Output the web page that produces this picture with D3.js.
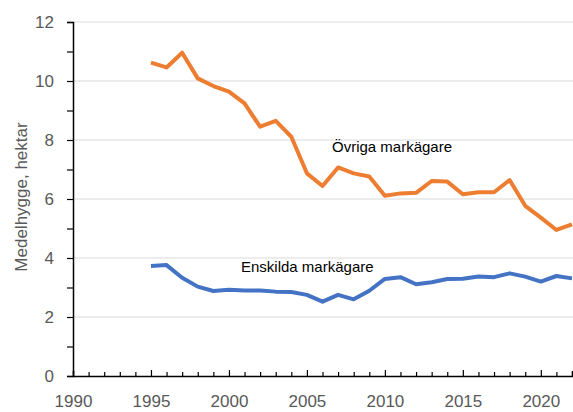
<!DOCTYPE html>
<html>
<head>
<meta charset="utf-8">
<script src="https://cdn.jsdelivr.net/npm/d3@7"></script>
<style>
  body { margin: 0; background: #fff; }
  svg { display: block; font-family: "Liberation Sans", Arial, sans-serif; }
</style>
</head>
<body>
<svg id="chart" width="573" height="412"></svg>
<script>
const WIDTH = 573;
const HEIGHT = 412;

// data
const years = d3.range(1995, 2023);
const ovriga = [10.62, 10.46, 10.96, 10.09, 9.83, 9.64, 9.24, 8.45, 8.65, 8.11,
  6.87, 6.44, 7.07, 6.87, 6.76, 6.11, 6.19, 6.21, 6.61, 6.59,
  6.16, 6.23, 6.23, 6.64, 5.77, 5.37, 4.95, 5.14];
const enskilda = [3.73, 3.76, 3.33, 3.03, 2.88, 2.92, 2.90, 2.90, 2.86, 2.85,
  2.75, 2.52, 2.75, 2.60, 2.89, 3.29, 3.35, 3.11, 3.18, 3.29,
  3.30, 3.37, 3.35, 3.48, 3.37, 3.20, 3.39, 3.31];
const xTickLabels = [1990, 1995, 2000, 2005, 2010, 2015, 2020];
const yTickLabels = [0, 2, 4, 6, 8, 10, 12];

const series = [
  { name: "Övriga markägare", values: ovriga, color: "#ED7D31", label: [332, 152] },
  { name: "Enskilda markägare", values: enskilda, color: "#4472C4", label: [241, 272] },
];

const svg = d3.select("#chart");

const x = d3.scaleLinear().domain([1990, 2022]).range([73, 572]);
const y = d3.scaleLinear().domain([0, 12]).range([376, 22]);

// gridlines
svg.append("g")
  .selectAll("line")
  .data(yTickLabels.slice(1))
  .join("line")
  .attr("x1", x(1990))
  .attr("x2", WIDTH)
  .attr("y1", (d) => y(d))
  .attr("y2", (d) => y(d))
  .attr("stroke", "#d9d9d9")
  .attr("stroke-width", 1);

// y axis
const yAxis = svg.append("g")
  .attr("transform", `translate(${x(1990)},0)`)
  .call(d3.axisLeft(y).tickValues(d3.range(0, 13)).tickSize(6)
    .tickFormat((d) => (d % 2 === 0 ? d : "")));
yAxis.select(".domain").attr("stroke", "#000").attr("stroke-width", 1.5);
yAxis.selectAll(".tick line").attr("stroke", "#000").attr("stroke-width", 1.2);
yAxis.selectAll(".tick text")
  .attr("x", -19)
  .attr("font-size", 17)
  .attr("font-family", "Liberation Sans, Arial, sans-serif")
  .attr("fill", "#595959");

// x axis, ticks pointing up
const xAxis = svg.append("g")
  .attr("transform", `translate(0,${y(0)})`)
  .call(d3.axisBottom(x).tickValues(d3.range(1990, 2023)).tickSizeOuter(0)
    .tickSize(-5)
    .tickFormat((d) => (xTickLabels.includes(d) ? d : "")));
xAxis.select(".domain").attr("stroke", "#000").attr("stroke-width", 1.5);
xAxis.selectAll(".tick line")
  .attr("stroke", "#000")
  .attr("stroke-width", 1.2)
  .attr("y2", (d) => (d % 5 === 0 ? -6 : -4));
xAxis.selectAll(".tick text")
  .attr("y", 19)
  .attr("font-size", 17)
  .attr("font-family", "Liberation Sans, Arial, sans-serif")
  .attr("fill", "#595959");

// y axis title
svg.append("text")
  .attr("transform", `translate(27,197) rotate(-90)`)
  .attr("text-anchor", "middle")
  .attr("font-size", 17)
  .attr("fill", "#595959")
  .text("Medelhygge, hektar");

// lines
const line = d3.line()
  .x((d, i) => x(years[i]))
  .y((d) => y(d));

svg.append("g")
  .selectAll("path")
  .data(series)
  .join("path")
  .attr("d", (d) => line(d.values))
  .attr("fill", "none")
  .attr("stroke", (d) => d.color)
  .attr("stroke-width", 4)
  .attr("stroke-linejoin", "round");

// series labels
svg.append("g")
  .selectAll("text")
  .data(series)
  .join("text")
  .attr("x", (d) => d.label[0])
  .attr("y", (d) => d.label[1])
  .attr("font-size", 15)
  .attr("fill", "#000")
  .text((d) => d.name);
</script>
</body>
</html>
